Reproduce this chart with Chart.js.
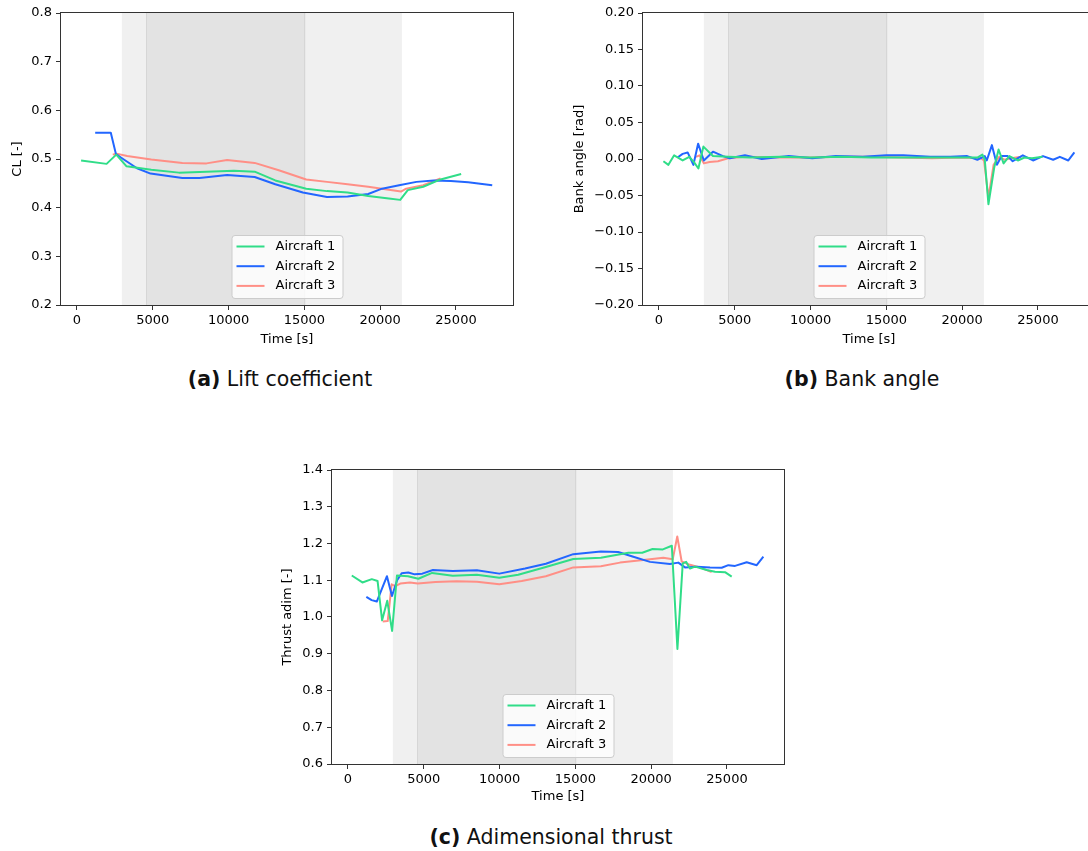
<!DOCTYPE html>
<html>
<head>
<meta charset="utf-8">
<title>Flight phases</title>
<script src="https://cdn.jsdelivr.net/npm/chart.js@4.4.0/dist/chart.umd.min.js"></script>
<style>
    body { margin: 0; width: 1088px; height: 851px; overflow: hidden; background: #fff; position: relative; }
    .paneel { position: absolute; }
    .onderschrift { position: absolute; transform: translateX(-50%); white-space: nowrap;
        font-family: "DejaVu Sans", sans-serif; font-size: 20.5px; color: #111; line-height: 28px; }
</style>
</head>
<body>
<canvas id="cl_chart" class="paneel" width="540" height="352" style="left:0;top:0"></canvas>
<canvas id="bank_chart" class="paneel" width="540" height="352" style="left:560px;top:0"></canvas>
<canvas id="thrust_chart" class="paneel" width="540" height="360" style="left:270px;top:450px"></canvas>
<div class="onderschrift" style="left:280px;top:365px"><b>(a)</b> Lift coefficient</div>
<div class="onderschrift" style="left:862px;top:365px"><b>(b)</b> Bank angle</div>
<div class="onderschrift" style="left:551px;top:823px"><b>(c)</b> Adimensional thrust</div>

<script>
// Shared axis data
const timeTicks = [0, 5000, 10000, 15000, 20000, 25000];
const timeRange = [-1055, 28760];
const phaseOuter = [2960, 21430];   // light band
const phaseInner = [4580, 15070];   // dark band
const seriesNames = ['Aircraft 1', 'Aircraft 2', 'Aircraft 3'];
const seriesColors = ['#30dd88', '#2266ff', '#ff8f86'];

// Lift coefficient
const clTime1 = [270, 1950, 2590, 3270, 4900, 6720, 8540, 10350, 11720, 13080, 15120, 16490, 17850, 19210, 20570, 21320, 21820, 22840, 23980, 25340];
const clValues1 = [0.497, 0.490, 0.509, 0.485, 0.478, 0.472, 0.474, 0.476, 0.474, 0.456, 0.439, 0.434, 0.431, 0.424, 0.419, 0.416, 0.436, 0.443, 0.458, 0.469];
const clTime2 = [1200, 2230, 2570, 3090, 3960, 4850, 6950, 8080, 9900, 11720, 13080, 14900, 16490, 17850, 19210, 20120, 21250, 22390, 23530, 24660, 25800, 27390];
const clValues2 = [0.554, 0.554, 0.510, 0.499, 0.481, 0.470, 0.461, 0.461, 0.467, 0.463, 0.448, 0.431, 0.422, 0.423, 0.428, 0.439, 0.446, 0.453, 0.456, 0.455, 0.452, 0.446];
const clTime3 = [2360, 2600, 3310, 4900, 6950, 8540, 9900, 11720, 13310, 15120, 16490, 17850, 19210, 20570, 21370, 21710, 22840, 23980];
const clValues3 = [0.509, 0.511, 0.506, 0.499, 0.492, 0.491, 0.498, 0.492, 0.477, 0.458, 0.453, 0.448, 0.443, 0.437, 0.433, 0.439, 0.446, 0.460];
const clTicks = [0.2, 0.3, 0.4, 0.5, 0.6, 0.7, 0.8];

// Bank angle
const bankTime1 = [290, 620, 1000, 1560, 2000, 2330, 2600, 2930, 3560, 4560, 6000, 8000, 10000, 12000, 14000, 16000, 18000, 20000, 21000, 21330, 21490, 21730, 22110, 22400, 22730, 23110, 23670, 24110, 24600, 25300];
const bankValues1 = [-0.003, -0.008, 0.005, -0.002, 0.003, -0.005, -0.013, 0.017, 0.004, 0.003, 0.002, 0.003, 0.002, 0.003, 0.002, 0.002, 0.002, 0.002, 0.002, 0.006, -0.001, -0.062, -0.012, 0.013, -0.006, 0.004, -0.002, 0.002, 0.001, 0.003];
const bankTime2 = [1220, 1560, 1890, 2270, 2580, 2960, 3560, 4220, 4670, 5670, 6780, 8560, 10110, 11670, 13440, 15000, 16110, 17890, 19220, 20330, 21000, 21490, 21620, 21960, 22290, 22600, 23000, 23330, 24000, 24670, 25330, 26000, 26440, 27000, 27400];
const bankValues2 = [0.002, 0.007, 0.009, -0.008, 0.021, -0.002, 0.010, 0.004, 0.001, 0.005, 0.000, 0.004, 0.001, 0.004, 0.003, 0.005, 0.005, 0.003, 0.003, 0.004, -0.001, 0.004, -0.002, 0.019, -0.008, 0.004, 0.004, -0.003, 0.005, -0.002, 0.004, -0.001, 0.003, -0.002, 0.009];
const bankTime3 = [2440, 2670, 2960, 3330, 3890, 4560, 5670, 8000, 10000, 12000, 14000, 16000, 18000, 20000, 21220, 21440, 21730, 22070, 22440, 22780, 23220, 23890];
const bankValues3 = [0.003, 0.005, -0.006, -0.004, -0.003, 0.001, 0.003, 0.002, 0.002, 0.003, 0.003, 0.002, 0.001, 0.002, 0.001, -0.002, -0.053, -0.008, 0.003, -0.001, 0.001, 0.003];
const bankTicks = [-0.20, -0.15, -0.10, -0.05, 0.00, 0.05, 0.10, 0.15, 0.20];

// Adimensional thrust
const thrustTime1 = [250, 950, 1570, 1950, 2250, 2590, 2910, 3230, 3960, 4640, 5550, 6910, 8500, 9980, 11230, 13050, 14860, 16680, 18500, 19410, 20090, 20770, 21360, 21730, 22080, 22300, 22560, 22890, 23660, 24210, 24870, 25310];
const thrustValues1 = [1.113, 1.094, 1.103, 1.098, 0.991, 1.044, 0.962, 1.113, 1.111, 1.104, 1.120, 1.112, 1.115, 1.107, 1.115, 1.136, 1.158, 1.161, 1.175, 1.175, 1.185, 1.184, 1.194, 0.913, 1.146, 1.150, 1.132, 1.137, 1.128, 1.123, 1.122, 1.110];
const thrustTime2 = [1210, 1560, 1900, 2570, 2900, 3240, 3540, 3980, 4400, 4900, 5600, 6910, 8500, 9980, 11680, 13050, 14860, 16680, 17820, 18820, 19920, 21240, 21790, 22230, 23000, 23880, 24650, 25090, 25530, 26300, 26960, 27400];
const thrustValues2 = [1.055, 1.046, 1.042, 1.111, 1.057, 1.100, 1.119, 1.121, 1.116, 1.118, 1.128, 1.125, 1.127, 1.118, 1.132, 1.145, 1.171, 1.178, 1.177, 1.164, 1.150, 1.144, 1.148, 1.135, 1.137, 1.135, 1.134, 1.141, 1.139, 1.149, 1.141, 1.164];
const thrustTime3 = [2290, 2620, 2880, 3120, 3450, 4090, 4600, 5770, 7140, 8500, 9980, 11460, 13050, 14860, 16680, 17940, 19480, 20800, 21420, 21720, 22010, 22560, 23220, 23990];
const thrustValues3 = [0.988, 0.989, 1.089, 1.084, 1.091, 1.094, 1.091, 1.095, 1.097, 1.096, 1.089, 1.098, 1.111, 1.135, 1.138, 1.148, 1.155, 1.161, 1.157, 1.219, 1.151, 1.142, 1.135, 1.122];
const thrustTicks = [0.6, 0.7, 0.8, 0.9, 1.0, 1.1, 1.2, 1.3, 1.4];

const FONT = { family: 'DejaVu Sans', size: 13 };

function toPoints(times, values) {
    return times.map((t, i) => ({ x: t, y: values[i] }));
}

// Grey bands for the flight phases, drawn under the lines
const phaseBands = {
    id: 'phaseBands',
    beforeDatasetsDraw(chart) {
        const { ctx, chartArea: a, scales: { x } } = chart;
        ctx.save();
        ctx.fillStyle = '#f0f0f0';
        ctx.fillRect(x.getPixelForValue(phaseOuter[0]), a.top, x.getPixelForValue(phaseOuter[1]) - x.getPixelForValue(phaseOuter[0]), a.height);
        const x0 = x.getPixelForValue(phaseInner[0]);
        const x1 = x.getPixelForValue(phaseInner[1]);
        ctx.fillStyle = '#e3e3e3';
        ctx.fillRect(x0, a.top, x1 - x0, a.height);
        ctx.strokeStyle = '#d6d6d6';
        ctx.lineWidth = 1;
        ctx.beginPath();
        ctx.moveTo(Math.round(x0) + 0.5, a.top); ctx.lineTo(Math.round(x0) + 0.5, a.bottom);
        ctx.moveTo(Math.round(x1) - 0.5, a.top); ctx.lineTo(Math.round(x1) - 0.5, a.bottom);
        ctx.stroke();
        ctx.restore();
    }
};

// Axes frame and the legend box at the lower centre
const frameAndLegend = {
    id: 'frameAndLegend',
    afterDatasetsDraw(chart) {
        const { ctx, chartArea: a } = chart;
        ctx.save();
        ctx.strokeStyle = '#333';
        ctx.lineWidth = 1;
        ctx.strokeRect(Math.round(a.left) - 0.5, Math.round(a.top) - 0.5, Math.round(a.right - a.left) + 1, Math.round(a.bottom - a.top) + 1);

        const w = 111, h = 63;
        const bx = (a.left + a.right) / 2 - w / 2;
        const by = a.bottom - 7 - h;
        ctx.beginPath();
        ctx.roundRect(bx + 0.5, by + 0.5, w, h, 3);
        ctx.fillStyle = 'rgba(255,255,255,0.8)';
        ctx.fill();
        ctx.strokeStyle = '#cccccc';
        ctx.stroke();

        ctx.font = FONT.size + 'px "' + FONT.family + '"';
        ctx.textBaseline = 'middle';
        ctx.fillStyle = '#000';
        chart.data.datasets.forEach((ds, i) => {
            const y = by + 11.5 + i * 19.7;
            ctx.strokeStyle = ds.borderColor;
            ctx.lineWidth = 2;
            ctx.beginPath();
            ctx.moveTo(bx + 5, y);
            ctx.lineTo(bx + 33, y);
            ctx.stroke();
            ctx.fillText(ds.label, bx + 44, y);
        });
        ctx.restore();
    }
};

function tekenPaneel(id, series, yTicks, yDecimals, yTitle, geo) {
    const ctx = document.getElementById(id).getContext('2d');
    return new Chart(ctx, {
        type: 'line',
        data: {
            datasets: series.map((pts, i) => ({
                label: seriesNames[i],
                data: pts,
                borderColor: seriesColors[i],
                borderWidth: 2,
                pointRadius: 0,
                tension: 0,
                borderJoinStyle: 'round'
            }))
        },
        options: {
            responsive: false,
            animation: false,
            events: [],
            layout: { padding: geo.padding },
            plugins: { legend: { display: false }, tooltip: { enabled: false } },
            scales: {
                x: {
                    type: 'linear',
                    min: timeRange[0],
                    max: timeRange[1],
                    afterBuildTicks: s => { s.ticks = timeTicks.map(v => ({ value: v })); },
                    afterFit: s => { s.height = geo.xHeight; },
                    border: { display: false },
                    grid: { drawOnChartArea: false, drawTicks: true, tickLength: 5, color: '#333' },
                    ticks: { font: FONT, color: '#000', padding: 3, maxRotation: 0, callback: v => String(v) },
                    title: { display: true, text: 'Time [s]', font: FONT, color: '#000', padding: { top: 0, bottom: geo.xTitlePad } }
                },
                y: {
                    min: yTicks[0],
                    max: yTicks[yTicks.length - 1],
                    afterBuildTicks: s => { s.ticks = yTicks.map(v => ({ value: v })); },
                    afterFit: s => { s.width = geo.yWidth; },
                    border: { display: false },
                    grid: { drawOnChartArea: false, drawTicks: true, tickLength: 5, color: '#333' },
                    ticks: { font: FONT, color: '#000', padding: 4, callback: v => v.toFixed(yDecimals).replace('-', '\u2212') },
                    title: { display: true, text: yTitle, font: FONT, color: '#000', padding: { top: geo.yTitlePad, bottom: 0 } }
                }
            }
        },
        plugins: [phaseBands, frameAndLegend]
    });
}

window.onload = function() {
    tekenPaneel('cl_chart',
        [toPoints(clTime1, clValues1), toPoints(clTime2, clValues2), toPoints(clTime3, clValues3)],
        clTicks, 1, 'CL [-]',
        { padding: { left: 0, top: 13, right: 27, bottom: 0 }, yWidth: 61, xHeight: 47, yTitlePad: 10, xTitlePad: 5 });

    tekenPaneel('bank_chart',
        [toPoints(bankTime1, bankValues1), toPoints(bankTime2, bankValues2), toPoints(bankTime3, bankValues3)],
        bankTicks, 2, 'Bank angle [rad]',
        { padding: { left: 0, top: 13, right: 5, bottom: 0 }, yWidth: 83, xHeight: 47, yTitlePad: 12, xTitlePad: 5 });

    tekenPaneel('thrust_chart',
        [toPoints(thrustTime1, thrustValues1), toPoints(thrustTime2, thrustValues2), toPoints(thrustTime3, thrustValues3)],
        thrustTicks, 1, 'Thrust adim [-]',
        { padding: { left: 0, top: 20, right: 26, bottom: 0 }, yWidth: 62, xHeight: 46, yTitlePad: 10, xTitlePad: 5.5 });
};
</script>
</body>
</html>
